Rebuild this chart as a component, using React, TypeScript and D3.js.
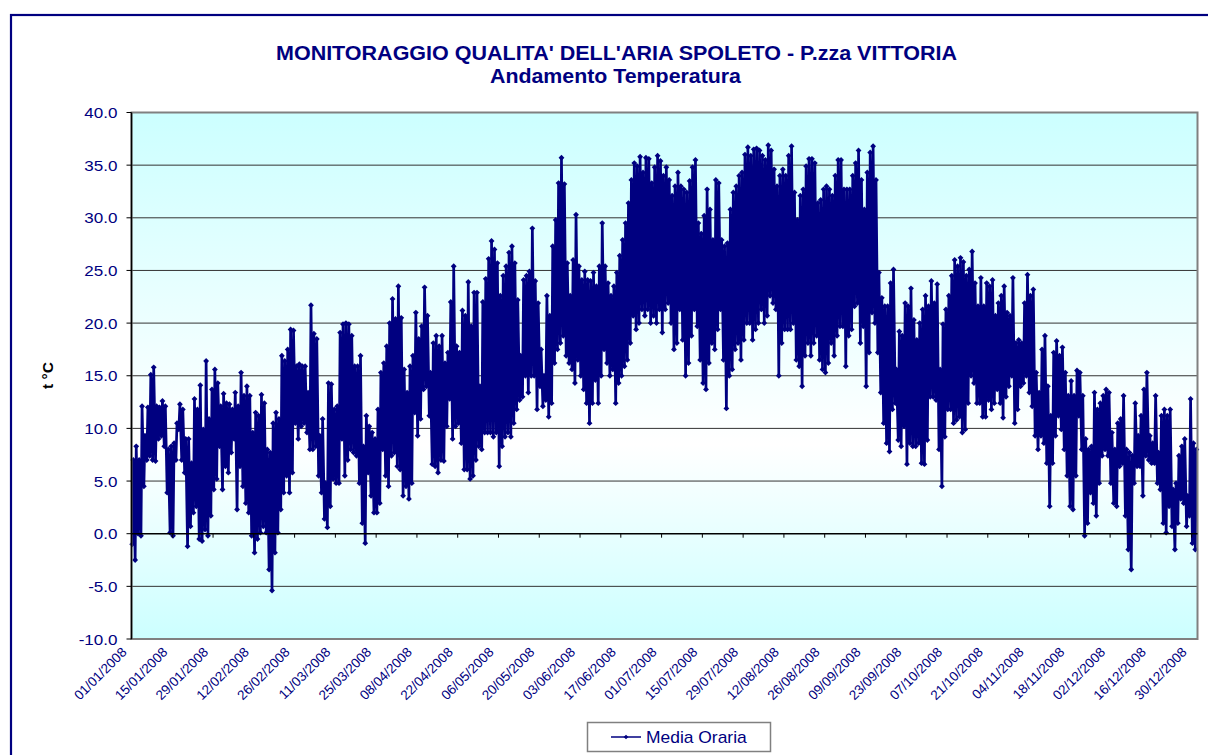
import * as d3 from "d3";

// Spoleto, P.zza Vittoria - hourly temperature 2008, read as daily max / min (°C)
const START = new Date(2008, 0, 1);
const END = new Date(2009, 0, 1);

const tempMax = [
  7, 8.3, 7, 12.1, 9.3, 12, 15.1, 15.8, 12.1, 12, 12.6, 12.1, 8, 8.3,
  8.6, 10.5, 12.3, 11.8, 9, 9, 6.7, 12.8, 11.8, 14.1, 9.9, 16.4, 10.9, 13.7,
  15.6, 14.3, 12.1, 13.3, 12.4, 12.3, 11.8, 13.4, 12.1, 15.3, 13.1, 14, 13.1, 9.6,
  11.5, 11.2, 13.2, 12.4, 8, 7.7, 10.5, 11.5, 10.9, 16.9, 16.4, 17.5, 19.4, 19.3,
  15.9, 16.1, 15.9, 15.9, 13.4, 21.7, 19, 18.5, 9.3, 10.9, 4.8, 14.3, 14.2, 11.8,
  12.1, 19.1, 19.9, 20, 19.9, 18.8, 15.9, 15.9, 16.9, 8.3, 11.2, 10.2, 9.6, 9,
  11.8, 15.3, 16.2, 17.8, 20, 22.3, 20.4, 23.5, 20.5, 15.6, 13.4, 15.9, 16.9, 21,
  18.5, 19.7, 23.4, 20.7, 15.3, 18.1, 18.8, 17.8, 18.8, 16.2, 17.2, 22, 25.4, 17.8,
  17.2, 21.2, 20.7, 23.9, 19.7, 22.9, 22.9, 14, 22, 24.2, 26.1, 27.8, 27, 25.7,
  22.6, 24.5, 25.4, 26.7, 27.3, 25.7, 22.2, 16.9, 24.1, 24.5, 24.9, 29, 24, 21.9,
  17.5, 15, 22.6, 20.7, 27.3, 29.8, 33.3, 35.7, 33.2, 25.7, 22.6, 26, 30.3, 25.4,
  24.1, 24.9, 24.1, 24, 24.8, 23.5, 25.4, 29.5, 25.4, 23.8, 22.6, 23.5, 24.8, 26.4,
  27.9, 29.5, 31.4, 33.6, 35.2, 34.9, 35.8, 34.3, 35.7, 35.6, 33.3, 34.8, 35.9, 35.4,
  34, 34.8, 33.6, 32.1, 33, 34.3, 33, 32.7, 32.4, 33.5, 34.8, 35.5, 29.5, 28.5,
  30.2, 32.7, 30.8, 27.9, 33.6, 33.3, 27.9, 27.3, 27.6, 30.8, 32.4, 33, 34, 34.3,
  36, 36.7, 35.9, 36.5, 36.6, 36.4, 35.9, 35.5, 36.9, 36.4, 34.6, 33, 34, 34.6,
  34, 35.9, 36.8, 32.4, 29.8, 32.1, 32.7, 34.9, 35.6, 35.6, 35.2, 31.4, 31.7, 32.7,
  33, 32.7, 32.1, 34, 35.5, 35.5, 32.7, 32.7, 32.7, 34, 35.2, 36.4, 33.6, 30.8,
  34.3, 36.2, 36.8, 33.6, 24.8, 22.4, 21.6, 21.6, 23.8, 25.1, 15.6, 19.2, 18.8, 21.9,
  21.6, 23.3, 20.3, 18.4, 20, 21.3, 22.6, 21.6, 24, 21.9, 23.7, 15.6, 19.9, 21.3,
  22.6, 24.5, 26, 25.4, 26.2, 25.8, 24.5, 25.1, 26.8, 23.8, 21.6, 24.3, 21.6, 23.8,
  23.5, 24.1, 20.7, 21.9, 22.6, 23.5, 21, 20.7, 24.3, 18.1, 18.4, 18.1, 21.9, 24.6,
  22.6, 23.2, 15.3, 13.4, 17.5, 18.8, 14, 11.2, 17.2, 18.3, 16.9, 17.7, 15.3, 13.1,
  14.5, 13.1, 15.5, 15.3, 13.1, 9, 8, 8.3, 13.4, 11.8, 12.4, 13.1, 13.7, 13.4,
  9.6, 8, 10.5, 10.9, 13.1, 8, 7.7, 7.4, 12.4, 9.3, 11.2, 13.7, 15.3, 9.3,
  8.6, 13.1, 7.7, 11.2, 11.8, 11.2, 11.8, 4.2, 4.8, 7.4, 8.3, 9, 3.6, 12.8,
  8.6, 8,
];

const tempMin = [
  -1, -2.5, 0, -0.2, 4.5, 7, 7.4, 7, 6.9, 9, 9.3, 8.3, 3.9, 0.1,
  -0.2, 7, 9.9, 7, 5.8, -1.2, 0.7, 2, 2.6, -0.5, -0.7, 0.4, -0.2, 1.7,
  4.2, 5.2, 8.3, 4.2, 6.4, 5.8, 7.7, 9, 2.3, 6.4, 4.5, 2.9, 2, -0.2,
  -1.8, -0.5, 0.1, 0.7, 0.1, -3.4, -5.4, -1.8, 0.1, 2.3, 3.9, 5.5, 3.9, 5.8,
  10.5, 9, 10.2, 10.5, 9.6, 8, 8, 8.3, 5.5, 3.9, 1.4, 0.6, 2.6, 5.2,
  4.8, 4.8, 9, 5.5, 7, 8, 7.7, 7.4, 4.8, 1, -0.9, 5.8, 3.6, 2,
  2, 2.9, 8, 5.5, 4.5, 7.4, 7.7, 6.4, 6.1, 3.6, 4.5, 3.3, 4.8, 11.5,
  9.3, 10.9, 13.7, 14, 11.2, 6.6, 6.4, 5.8, 7, 6.9, 10.2, 12.8, 9, 10.2,
  10.5, 8.6, 6.1, 6.1, 5.2, 5.5, 7, 8.3, 8, 9.6, 9.6, 9.6, 9.2, 9.6,
  6.4, 8.3, 9.2, 9.6, 9.2, 10.5, 11.8, 12.7, 13, 15, 13.4, 15, 15, 11.8,
  14, 12.1, 12.7, 11.1, 12.4, 16.2, 17.5, 18.1, 18.8, 16.9, 16.2, 15.6, 14.3, 16.5,
  15, 13.7, 12.4, 10.5, 12.4, 14.6, 12.4, 15, 17.5, 16.2, 15, 15.6, 12.4, 14.3,
  15, 15.9, 16.5, 18.1, 20.7, 19.4, 20, 21.3, 20.7, 21.3, 20, 20.7, 20, 21.3,
  19.1, 21.3, 21.9, 20, 17.5, 18.1, 21.3, 18.4, 15, 16.2, 18.8, 21.3, 19.7, 16.5,
  14.3, 13.7, 16.2, 18.1, 17.5, 19.4, 21.3, 16.5, 11.9, 15, 15.6, 17.5, 18.1, 16.5,
  18.4, 20, 20, 18.4, 19.4, 20, 21.3, 20, 20.7, 22.6, 21.9, 21.3, 15, 18.1,
  19.4, 19.4, 19.4, 20, 16.5, 15.9, 14, 16.9, 18.1, 16.9, 18.1, 18.8, 16.5, 15.6,
  15.3, 16.2, 18.1, 16.9, 18.8, 19.7, 19.7, 15.9, 18.8, 19.4, 21.6, 21.9, 18.1, 19.7,
  14, 17.2, 21, 20, 17.2, 13.4, 10.5, 8.6, 7.8, 11.8, 12.4, 8.9, 8.3, 10.2,
  6.6, 8.6, 8.3, 8.3, 8.6, 6.7, 6.6, 8.9, 13, 13, 12.7, 8, 4.5, 9.2,
  11.8, 11.8, 10.5, 10.8, 11.1, 9.6, 9.9, 12.4, 15, 14.3, 12.4, 12.4, 11.1, 11.1,
  12.7, 11.8, 12.4, 13.7, 12.4, 11, 13, 14, 15, 10.5, 11.8, 14, 14.3, 15,
  13.4, 12.1, 9.3, 8, 9.3, 8.6, 6.7, 2.6, 6.7, 9.3, 11.2, 9.9, 8, 5.5,
  2.6, 2.3, 5.5, 11.2, 8, -0.2, 1, 3.9, 2.9, 1.7, 4.8, 7.4, 8, 7.4,
  4.8, 2.9, 2.6, 6.4, 6.7, 1.7, -1.5, -3.4, 4.8, 6.4, 6.4, 3.6, 7.4, 7,
  6.7, 6.7, 4.8, 4.2, 1, 0.1, 2.6, 0.7, -1.5, 1, 3.3, 2.9, 0.7, 1.7,
  -0.9, -1.5,
];

const yTicks = [-10, -5, 0, 5, 10, 15, 20, 25, 30, 35, 40];
const gridValues = [-5, 5, 10, 15, 20, 25, 30, 35];
const TITLE = "MONITORAGGIO QUALITA' DELL'ARIA SPOLETO - P.zza VITTORIA";
const SUBTITLE = "Andamento Temperatura";
const Y_LABEL = "t °C";
const SERIES_NAME = "Media Oraria";

const NAVY = "#000080";
const FONT = "Arial, 'Liberation Sans', sans-serif";

export default function App() {
  const W = 1208;
  const H = 755;
  const plot = { left: 131.5, right: 1197.5, top: 112.5, bottom: 639 };

  const x = d3.scaleTime().domain([START, END]).range([plot.left, plot.right]);
  const y = d3.scaleLinear().domain([-10, 40]).range([plot.bottom, plot.top]);

  // two readings per day: the morning low and the afternoon high
  const points: { t: Date; v: number }[] = [];
  tempMin.forEach((lo, i) => {
    const day = d3.timeDay.offset(START, i);
    points.push({ t: d3.timeHour.offset(day, 6), v: lo });
    points.push({ t: d3.timeHour.offset(day, 15), v: tempMax[i] });
  });

  const line = d3
    .line<{ t: Date; v: number }>()
    .x((d) => x(d.t))
    .y((d) => y(d.v));

  const marker = d3.symbol(d3.symbolSquare, 17)() as string;
  const legendMarker = d3.symbol(d3.symbolSquare, 11)() as string;
  // category labels every 14 days from 1 January
  const xTicks = d3.range(0, 366, 14).map((i) => d3.timeDay.offset(START, i));
  const fmt = d3.timeFormat("%d/%m/%Y");

  return (
    <svg
      width={W}
      height={H}
      style={{ position: "absolute", left: 0, top: 0, background: "#fff" }}
      fontFamily={FONT}
    >
      <defs>
        <linearGradient id="plotBg" x1="0" y1="0" x2="0" y2="1">
          <stop offset="0" stopColor="#ccffff" />
          <stop offset="0.63" stopColor="#ffffff" />
          <stop offset="1" stopColor="#ccffff" />
        </linearGradient>
      </defs>

      {/* outer chart border */}
      <rect x={11} y={15} width={W + 20} height={H + 20} fill="none" stroke={NAVY} strokeWidth={2.2} />

      {/* titles */}
      <text x={616.5} y={60} textAnchor="middle" fontSize={20} fontWeight="bold" fill={NAVY} textLength={681} lengthAdjust="spacingAndGlyphs">
        {TITLE}
      </text>
      <text x={615.5} y={82.5} textAnchor="middle" fontSize={20} fontWeight="bold" fill={NAVY} textLength={251} lengthAdjust="spacingAndGlyphs">
        {SUBTITLE}
      </text>

      {/* plot area */}
      <rect
        x={plot.left}
        y={plot.top}
        width={plot.right - plot.left}
        height={plot.bottom - plot.top}
        fill="url(#plotBg)"
      />
      {gridValues.map((v) => (
        <line key={v} x1={plot.left} x2={plot.right} y1={y(v)} y2={y(v)} stroke="#333" strokeWidth={1} />
      ))}

      {/* series */}
      <path d={line(points) ?? ""} fill="none" stroke={NAVY} strokeWidth={2.7} strokeLinejoin="round" />
      <g fill={NAVY}>
        {points.map((p, i) => (
          <path key={i} d={marker} transform={`translate(${x(p.t)},${y(p.v)}) rotate(45)`} />
        ))}
      </g>

      {/* plot border */}
      <rect
        x={plot.left}
        y={plot.top}
        width={plot.right - plot.left}
        height={plot.bottom - plot.top}
        fill="none"
        stroke="#808080"
        strokeWidth={2}
      />

      {/* y axis */}
      <line x1={plot.left} x2={plot.left} y1={plot.top} y2={plot.bottom} stroke="#000" strokeWidth={1.5} />
      {yTicks.map((v) => (
        <g key={v}>
          <line x1={plot.left - 5} x2={plot.left} y1={y(v)} y2={y(v)} stroke="#000" />
          <text
            transform={`translate(117.5,${y(v) + 5.5}) scale(1.1,1)`}
            textAnchor="end"
            fontSize={15.5}
            fill={NAVY}
          >
            {v.toFixed(1)}
          </text>
        </g>
      ))}
      <text
        transform={`translate(53,375.5) rotate(-90)`}
        textAnchor="middle"
        fontSize={15.5}
        fontWeight="bold"
        fill="#000"
      >
        {Y_LABEL}
      </text>

      {/* x axis at 0 */}
      <line x1={plot.left} x2={plot.right} y1={y(0)} y2={y(0)} stroke="#000" strokeWidth={1.5} />
      {xTicks.map((d) => (
        <g key={d.getTime()}>
          <line x1={x(d)} x2={x(d)} y1={y(0)} y2={y(0) + 4} stroke="#000" />
          <text
            transform={`translate(${x(d) - 4},653) rotate(-45)`}
            textAnchor="end"
            fontSize={13.5}
            fill={NAVY}
          >
            {fmt(d)}
          </text>
        </g>
      ))}

      {/* legend */}
      <rect x={587.5} y={722.5} width={183} height={29} fill="#fff" stroke="#808080" strokeWidth={1.5} />
      <line x1={611} x2={641} y1={737} y2={737} stroke={NAVY} strokeWidth={1.5} />
      <path d={legendMarker} transform="translate(626,737) rotate(45)" fill={NAVY} />
      <text transform="translate(646,742.5) scale(1.09,1)" fontSize={16} fill={NAVY}>
        {SERIES_NAME}
      </text>
    </svg>
  );
}
